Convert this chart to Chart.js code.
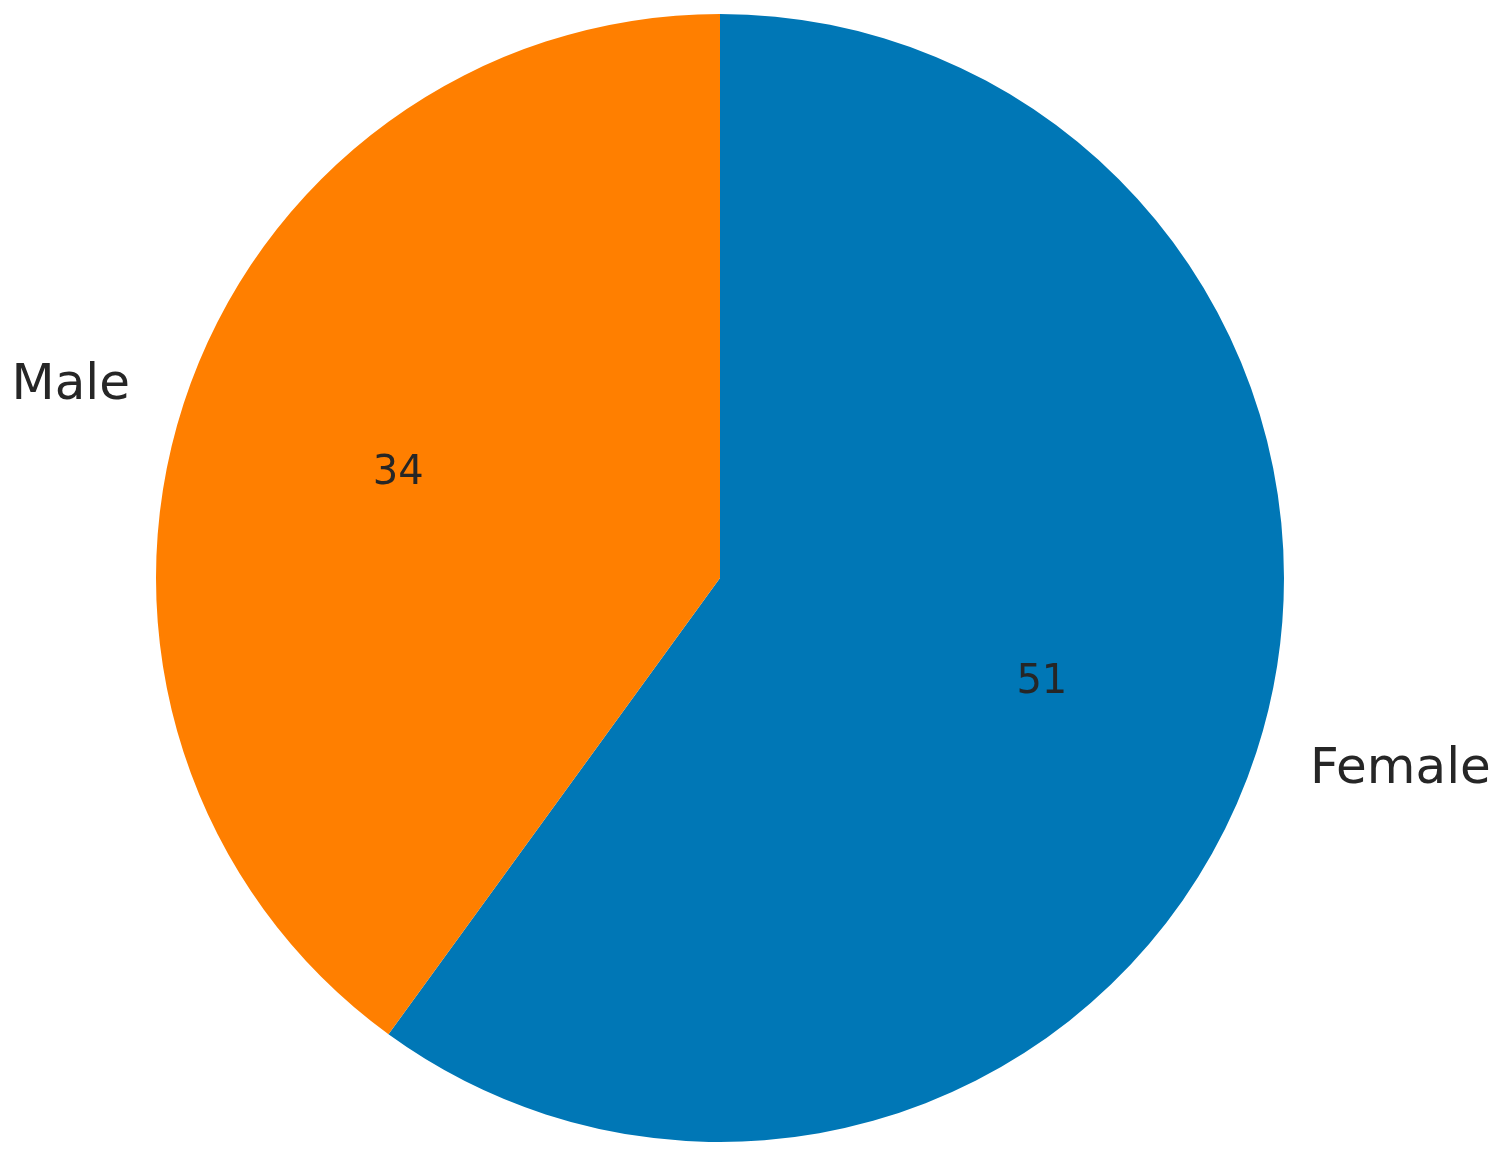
<!DOCTYPE html>
<html>
<head>
<meta charset="utf-8">
<script src="https://cdn.jsdelivr.net/npm/chart.js@4/dist/chart.umd.min.js"></script>
<style>
html,body{margin:0;padding:0;background:#fff;}
#wrap{width:1504px;height:1159px;position:relative;}
</style>
</head>
<body>
<div id="wrap"><canvas id="c" width="1504" height="1159"></canvas></div>
<script>
const categories = ["Female", "Male"];
const values = [51, 34];
const colors = ["#0077b6", "#ff7f00"];

const labelPlugin = {
  id: 'pieLabels',
  afterDatasetsDraw(chart) {
    const ctx = chart.ctx;
    const meta = chart.getDatasetMeta(0);
    ctx.save();
    ctx.fillStyle = '#262626';
    meta.data.forEach((arc, i) => {
      const p = arc.getProps(['x','y','startAngle','endAngle','outerRadius'], true);
      const mid = (p.startAngle + p.endAngle) / 2;
      const cx = Math.cos(mid), sy = Math.sin(mid);
      const lx = p.x + cx * p.outerRadius * 1.1;
      const ly = p.y + sy * p.outerRadius * 1.1;
      ctx.font = '50px "DejaVu Sans"';
      ctx.textBaseline = 'middle';
      ctx.textAlign = cx >= 0 ? 'left' : 'right';
      ctx.fillText(categories[i], lx, ly);
      const vx = p.x + cx * p.outerRadius * 0.6;
      const vy = p.y + sy * p.outerRadius * 0.6;
      ctx.font = '40px "DejaVu Sans"';
      ctx.textAlign = 'center';
      ctx.fillText(String(values[i]), vx, vy);
    });
    ctx.restore();
  }
};

new Chart(document.getElementById('c'), {
  type: 'pie',
  data: {
    labels: categories,
    datasets: [{ data: values, backgroundColor: colors, borderWidth: 0 }]
  },
  options: {
    responsive: false,
    animation: false,
    layout: { padding: { left: 0, right: 64, top: 14, bottom: 17 } },
    plugins: { legend: { display: false }, tooltip: { enabled: false } }
  },
  plugins: [labelPlugin]
});
</script>
</body>
</html>
